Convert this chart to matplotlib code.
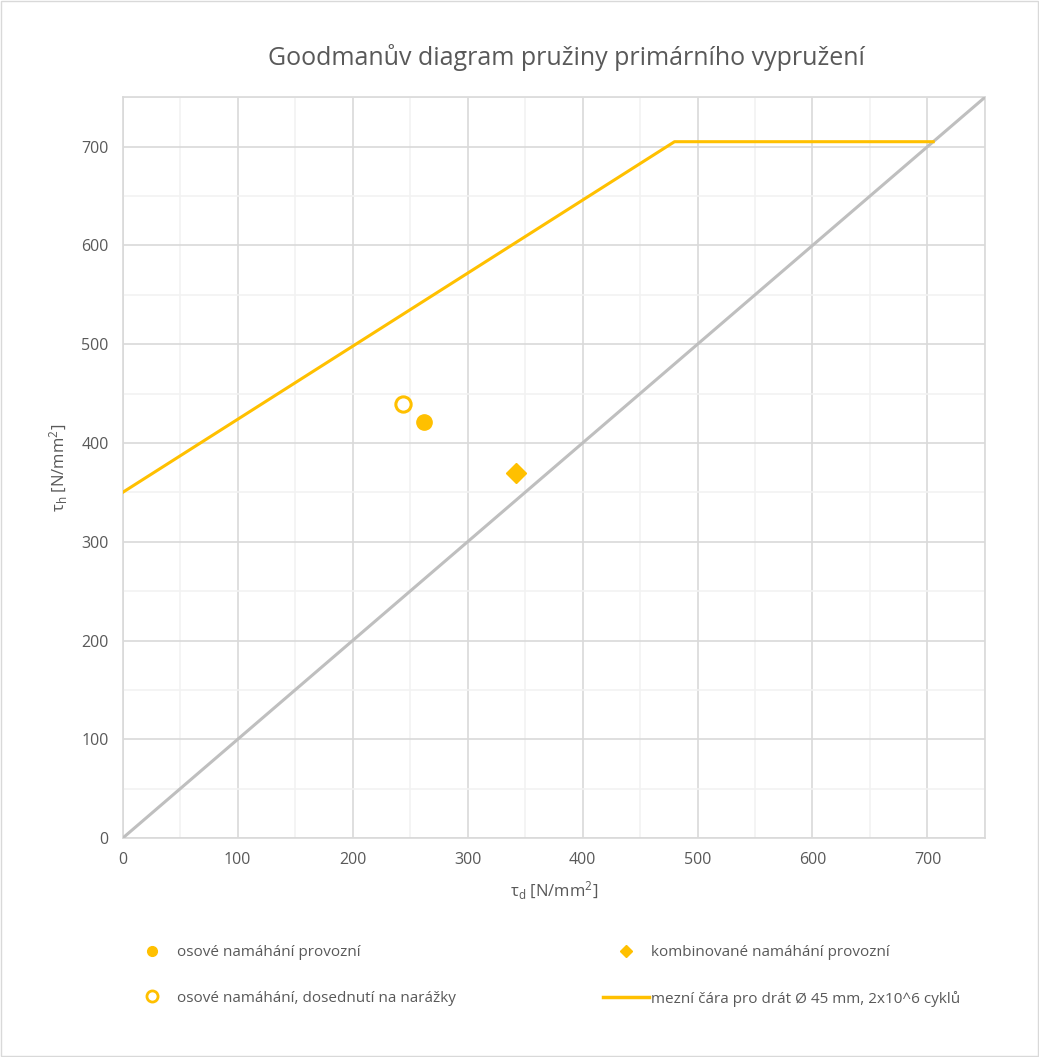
import matplotlib
matplotlib.use("Agg")
import matplotlib.pyplot as plt
from matplotlib.patches import Rectangle
from matplotlib.lines import Line2D

plt.rcParams['font.family'] = ['Open Sans', 'DejaVu Sans']

# data
limit_x = [0, 480, 705]
limit_y = [350, 705, 705]
diag_x = [0, 750]
diag_y = [0, 750]
axial_x = [262]
axial_y = [421]
axial_stop_x = [244]
axial_stop_y = [439]
comb_x = [342]
comb_y = [370]

title = "Goodmanův diagram pružiny primárního vypružení"
labels = ["osové namáhání provozní",
          "osové namáhání, dosednutí na narážky",
          "kombinované namáhání provozní",
          "mezní čára pro drát Ø 45 mm, 2x10^6 cyklů"]

gold = "#FFC000"
txt = "#595959"

fig = plt.figure(figsize=(10.39, 10.57), dpi=100)
ax = fig.add_axes([0.118, 0.207, 0.830, 0.701])

ax.plot(diag_x, diag_y, color="#BFBFBF", lw=2.2, zorder=3)
ax.plot(limit_x, limit_y, color=gold, lw=2.2, zorder=4)
ax.plot(axial_x, axial_y, 'o', color=gold, ms=11, zorder=5)
ax.plot(axial_stop_x, axial_stop_y, 'o', mfc="white", mec=gold, mew=2.2, ms=11, zorder=5)
ax.plot(comb_x, comb_y, 'D', color=gold, ms=10, zorder=5)

ax.set_xlim(0, 750)
ax.set_ylim(0, 750)
ax.set_xticks(range(0, 701, 100))
ax.set_yticks(range(0, 701, 100))
ax.set_xticks(range(50, 751, 100), minor=True)
ax.set_yticks(range(50, 751, 100), minor=True)
ax.grid(which='major', color="#D9D9D9", lw=1.2, zorder=0)
ax.grid(which='minor', color="#F2F2F2", lw=1.2, zorder=0)
ax.set_axisbelow(True)
for s in ax.spines.values():
    s.set_color("#D9D9D9")
    s.set_linewidth(1.2)
ax.tick_params(which='both', length=0, colors=txt, labelsize=11.5, pad=10)

ax.set_xlabel(r"$\mathregular{τ_d}$ [N/mm$\mathregular{^2}$]", color=txt, fontsize=12, labelpad=8)
ax.set_ylabel(r"$\mathregular{τ_h}$ [N/mm$\mathregular{^2}$]", color=txt, fontsize=12, labelpad=8)
fig.text(0.545, 0.946, title, ha='center', va='center', fontsize=18, color=txt)

handles = [
    Line2D([], [], ls='none', marker='o', color=gold, ms=7),
    Line2D([], [], ls='none', marker='o', mfc='white', mec=gold, mew=2, ms=8),
    Line2D([], [], ls='none', marker='D', color=gold, ms=6),
    Line2D([], [], color=gold, lw=2.5),
]
leg = fig.legend(handles, labels, ncol=2, loc='upper left',
                 bbox_to_anchor=(0.111, 0.119), frameon=False,
                 fontsize=11, labelcolor=txt, handlelength=3.0,
                 handletextpad=0.15, columnspacing=9.6, labelspacing=2.0)

fig.patches.append(Rectangle((0.001, 0.001), 0.998, 0.998, transform=fig.transFigure,
                             fill=False, edgecolor="#D9D9D9", lw=1))

fig.savefig("out.png", dpi=100, facecolor="white")
